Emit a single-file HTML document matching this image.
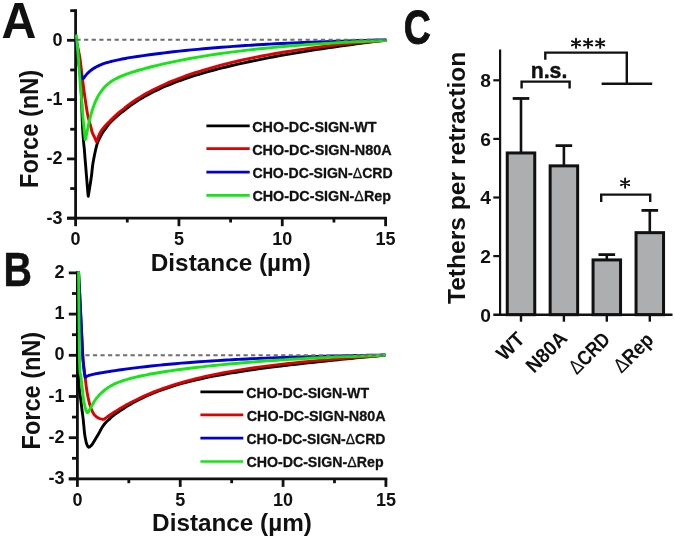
<!DOCTYPE html>
<html><head><meta charset="utf-8"><title>Figure</title>
<style>html,body{margin:0;padding:0;background:#fff;width:675px;height:540px;overflow:hidden}
svg{display:block;font-family:"Liberation Sans",sans-serif;will-change:transform}</style></head>
<body>
<svg width="675" height="540" viewBox="0 0 675 540" font-family="Liberation Sans, sans-serif">
<rect width="675" height="540" fill="#fff"/>
<line x1="75.60" y1="9.25" x2="75.60" y2="218.20" stroke="#111" stroke-width="2.80" />
<line x1="67.00" y1="218.20" x2="387.00" y2="218.20" stroke="#111" stroke-width="2.80" />
<line x1="67.00" y1="218.20" x2="75.60" y2="218.20" stroke="#111" stroke-width="2.80" />
<line x1="70.20" y1="188.55" x2="75.60" y2="188.55" stroke="#111" stroke-width="2.80" />
<line x1="67.00" y1="158.90" x2="75.60" y2="158.90" stroke="#111" stroke-width="2.80" />
<line x1="70.20" y1="129.25" x2="75.60" y2="129.25" stroke="#111" stroke-width="2.80" />
<line x1="67.00" y1="99.60" x2="75.60" y2="99.60" stroke="#111" stroke-width="2.80" />
<line x1="70.20" y1="69.95" x2="75.60" y2="69.95" stroke="#111" stroke-width="2.80" />
<line x1="67.00" y1="40.30" x2="75.60" y2="40.30" stroke="#111" stroke-width="2.80" />
<line x1="70.20" y1="10.65" x2="75.60" y2="10.65" stroke="#111" stroke-width="2.80" />
<line x1="75.60" y1="218.20" x2="75.60" y2="226.20" stroke="#111" stroke-width="2.80" />
<line x1="178.93" y1="218.20" x2="178.93" y2="226.20" stroke="#111" stroke-width="2.80" />
<line x1="282.27" y1="218.20" x2="282.27" y2="226.20" stroke="#111" stroke-width="2.80" />
<line x1="385.60" y1="218.20" x2="385.60" y2="226.20" stroke="#111" stroke-width="2.80" />
<line x1="127.27" y1="218.20" x2="127.27" y2="222.50" stroke="#111" stroke-width="2.80" />
<line x1="230.60" y1="218.20" x2="230.60" y2="222.50" stroke="#111" stroke-width="2.80" />
<line x1="333.93" y1="218.20" x2="333.93" y2="222.50" stroke="#111" stroke-width="2.80" />
<text x="62.600" y="223.500" font-size="18.000" text-anchor="end" font-weight="bold" fill="#111">-3</text>
<text x="62.600" y="164.200" font-size="18.000" text-anchor="end" font-weight="bold" fill="#111">-2</text>
<text x="62.600" y="104.900" font-size="18.000" text-anchor="end" font-weight="bold" fill="#111">-1</text>
<text x="62.600" y="45.600" font-size="18.000" text-anchor="end" font-weight="bold" fill="#111">0</text>
<text x="75.600" y="245.000" font-size="18.000" text-anchor="middle" font-weight="bold" fill="#111">0</text>
<text x="178.933" y="245.000" font-size="18.000" text-anchor="middle" font-weight="bold" fill="#111">5</text>
<text x="282.267" y="245.000" font-size="18.000" text-anchor="middle" font-weight="bold" fill="#111">10</text>
<text x="385.600" y="245.000" font-size="18.000" text-anchor="middle" font-weight="bold" fill="#111">15</text>
<path d="M75.80,40.30 C76.03,41.42 76.70,44.55 77.20,47.00 C77.70,49.45 78.30,51.17 78.80,55.00 C79.30,58.83 79.80,64.17 80.20,70.00 C80.60,75.83 80.92,83.33 81.20,90.00 C81.48,96.67 81.67,103.67 81.90,110.00 C82.13,116.33 82.32,122.67 82.60,128.00 C82.88,133.33 83.30,138.33 83.60,142.00 C83.90,145.67 84.17,147.33 84.40,150.00 C84.63,152.67 84.80,155.50 85.00,158.00 C85.20,160.50 85.37,162.17 85.60,165.00 C85.83,167.83 86.13,171.67 86.40,175.00 C86.67,178.33 86.97,182.17 87.20,185.00 C87.43,187.83 87.63,190.12 87.80,192.00 C87.97,193.88 88.03,196.13 88.20,196.30 C88.37,196.47 88.48,194.88 88.80,193.00 C89.12,191.12 89.63,188.00 90.10,185.00 C90.57,182.00 91.17,178.33 91.60,175.00 C92.03,171.67 92.22,168.33 92.70,165.00 C93.18,161.67 93.90,158.00 94.50,155.00 C95.10,152.00 95.75,149.17 96.30,147.00 C96.85,144.83 97.25,143.47 97.80,142.00 C98.35,140.53 98.83,139.70 99.60,138.20 C100.37,136.70 101.32,134.73 102.40,133.00 C103.48,131.27 104.83,129.50 106.10,127.80 C107.37,126.10 108.52,124.43 110.00,122.80 C111.48,121.17 113.33,119.53 115.00,118.00 C116.67,116.47 118.50,114.83 120.00,113.60 C121.50,112.37 123.08,111.32 124.00,110.60 C124.92,109.88 125.00,109.68 125.50,109.27 C126.00,108.85 126.50,108.49 127.00,108.12 C127.50,107.74 128.00,107.36 128.50,106.99 C129.00,106.62 129.50,106.26 130.00,105.90 C130.50,105.54 131.00,105.19 131.50,104.83 C132.00,104.48 132.50,104.14 133.00,103.79 C133.50,103.45 134.00,103.11 134.50,102.78 C135.00,102.45 135.50,102.12 136.00,101.79 C136.50,101.46 137.00,101.14 137.50,100.82 C138.00,100.51 138.50,100.19 139.00,99.88 C139.50,99.57 140.00,99.26 140.50,98.96 C141.00,98.65 141.50,98.35 142.00,98.06 C142.50,97.76 143.00,97.47 143.50,97.18 C144.00,96.89 144.50,96.60 145.00,96.32 C145.50,96.03 146.00,95.75 146.50,95.48 C147.00,95.20 147.50,94.92 148.00,94.65 C148.50,94.38 149.00,94.11 149.50,93.85 C150.00,93.58 150.50,93.32 151.00,93.06 C151.50,92.80 152.00,92.54 152.50,92.29 C153.00,92.03 152.75,92.14 154.00,91.53 C155.25,90.93 158.00,89.58 160.00,88.66 C162.00,87.74 164.00,86.86 166.00,86.01 C168.00,85.16 170.00,84.34 172.00,83.55 C174.00,82.75 176.00,81.99 178.00,81.25 C180.00,80.51 182.00,79.80 184.00,79.10 C186.00,78.40 188.00,77.73 190.00,77.08 C192.00,76.42 194.00,75.79 196.00,75.17 C198.00,74.55 200.00,73.95 202.00,73.37 C204.00,72.78 206.00,72.21 208.00,71.65 C210.00,71.10 212.00,70.55 214.00,70.02 C216.00,69.49 218.00,68.97 220.00,68.46 C222.00,67.95 224.00,67.46 226.00,66.97 C228.00,66.48 230.00,66.00 232.00,65.53 C234.00,65.06 236.00,64.61 238.00,64.15 C240.00,63.70 242.00,63.26 244.00,62.82 C246.00,62.39 248.00,61.96 250.00,61.54 C252.00,61.12 254.00,60.70 256.00,60.30 C258.00,59.89 260.00,59.49 262.00,59.09 C264.00,58.70 266.00,58.31 268.00,57.93 C270.00,57.54 272.00,57.16 274.00,56.79 C276.00,56.42 278.00,56.05 280.00,55.69 C282.00,55.33 284.00,54.97 286.00,54.62 C288.00,54.27 290.00,53.92 292.00,53.58 C294.00,53.23 296.00,52.89 298.00,52.56 C300.00,52.23 302.00,51.90 304.00,51.57 C306.00,51.24 308.00,50.92 310.00,50.60 C312.00,50.29 314.00,49.97 316.00,49.66 C318.00,49.35 320.00,49.04 322.00,48.74 C324.00,48.44 326.00,48.14 328.00,47.84 C330.00,47.54 332.00,47.25 334.00,46.96 C336.00,46.67 338.00,46.39 340.00,46.10 C342.00,45.82 344.00,45.54 346.00,45.27 C348.00,44.99 350.00,44.72 352.00,44.45 C354.00,44.18 356.00,43.91 358.00,43.64 C360.00,43.38 362.00,43.12 364.00,42.86 C366.00,42.60 368.00,42.35 370.00,42.09 C372.00,41.84 374.00,41.59 376.00,41.34 C378.00,41.09 380.42,40.80 382.00,40.61 C383.58,40.42 384.92,40.26 385.50,40.19" fill="none" stroke="#000" stroke-width="2.90" stroke-linejoin="round" stroke-linecap="round"/>
<path d="M76.20,40.00 C76.42,41.00 77.07,44.00 77.50,46.00 C77.93,48.00 78.35,49.67 78.80,52.00 C79.25,54.33 79.67,56.17 80.20,60.00 C80.73,63.83 81.45,70.50 82.00,75.00 C82.55,79.50 82.95,82.83 83.50,87.00 C84.05,91.17 84.60,95.33 85.30,100.00 C86.00,104.67 87.00,111.33 87.70,115.00 C88.40,118.67 88.97,120.00 89.50,122.00 C90.03,124.00 90.47,125.33 90.90,127.00 C91.33,128.67 91.47,130.23 92.10,132.00 C92.73,133.77 93.93,135.93 94.70,137.60 C95.47,139.27 96.08,142.17 96.70,142.00 C97.32,141.83 97.62,138.50 98.40,136.60 C99.18,134.70 100.28,132.37 101.40,130.60 C102.52,128.83 103.67,127.60 105.10,126.00 C106.53,124.40 108.35,122.65 110.00,121.00 C111.65,119.35 113.33,117.65 115.00,116.10 C116.67,114.55 118.50,112.95 120.00,111.70 C121.50,110.45 123.08,109.35 124.00,108.60 C124.92,107.85 125.00,107.64 125.50,107.21 C126.00,106.79 126.50,106.44 127.00,106.06 C127.50,105.68 128.00,105.30 128.50,104.93 C129.00,104.56 129.50,104.19 130.00,103.83 C130.50,103.47 131.00,103.12 131.50,102.76 C132.00,102.41 132.50,102.06 133.00,101.72 C133.50,101.38 134.00,101.04 134.50,100.70 C135.00,100.37 135.50,100.04 136.00,99.71 C136.50,99.38 137.00,99.06 137.50,98.74 C138.00,98.42 138.50,98.10 139.00,97.79 C139.50,97.48 140.00,97.17 140.50,96.87 C141.00,96.56 141.50,96.26 142.00,95.96 C142.50,95.66 143.00,95.37 143.50,95.07 C144.00,94.78 144.50,94.49 145.00,94.21 C145.50,93.92 146.00,93.64 146.50,93.36 C147.00,93.08 147.50,92.80 148.00,92.53 C148.50,92.26 149.00,91.98 149.50,91.72 C150.00,91.45 150.50,91.18 151.00,90.92 C151.50,90.66 152.00,90.40 152.50,90.14 C153.00,89.88 152.75,89.99 154.00,89.37 C155.25,88.76 158.00,87.39 160.00,86.45 C162.00,85.51 164.00,84.61 166.00,83.73 C168.00,82.85 170.00,82.01 172.00,81.19 C174.00,80.37 176.00,79.58 178.00,78.81 C180.00,78.04 182.00,77.30 184.00,76.57 C186.00,75.84 188.00,75.14 190.00,74.46 C192.00,73.77 194.00,73.11 196.00,72.46 C198.00,71.81 200.00,71.18 202.00,70.57 C204.00,69.95 206.00,69.36 208.00,68.77 C210.00,68.19 212.00,67.62 214.00,67.07 C216.00,66.51 218.00,65.97 220.00,65.44 C222.00,64.92 224.00,64.40 226.00,63.90 C228.00,63.39 230.00,62.90 232.00,62.42 C234.00,61.94 236.00,61.47 238.00,61.01 C240.00,60.56 242.00,60.11 244.00,59.67 C246.00,59.23 248.00,58.80 250.00,58.39 C252.00,57.97 254.00,57.56 256.00,57.16 C258.00,56.76 260.00,56.37 262.00,55.99 C264.00,55.60 266.00,55.23 268.00,54.86 C270.00,54.50 272.00,54.14 274.00,53.79 C276.00,53.44 278.00,53.10 280.00,52.76 C282.00,52.43 284.00,52.10 286.00,51.78 C288.00,51.46 290.00,51.15 292.00,50.84 C294.00,50.53 296.00,50.23 298.00,49.94 C300.00,49.64 302.00,49.36 304.00,49.08 C306.00,48.79 308.00,48.52 310.00,48.25 C312.00,47.98 314.00,47.72 316.00,47.46 C318.00,47.20 320.00,46.95 322.00,46.70 C324.00,46.46 326.00,46.21 328.00,45.98 C330.00,45.74 332.00,45.51 334.00,45.28 C336.00,45.06 338.00,44.84 340.00,44.62 C342.00,44.40 344.00,44.19 346.00,43.98 C348.00,43.77 350.00,43.57 352.00,43.37 C354.00,43.17 356.00,42.98 358.00,42.79 C360.00,42.60 362.00,42.41 364.00,42.23 C366.00,42.05 368.00,41.87 370.00,41.69 C372.00,41.52 374.00,41.35 376.00,41.18 C378.00,41.01 380.42,40.82 382.00,40.69 C383.58,40.56 384.92,40.46 385.50,40.41" fill="none" stroke="#e00000" stroke-width="2.90" stroke-linejoin="round" stroke-linecap="round"/>
<path d="M76.20,40.30 C76.40,41.92 77.03,46.72 77.40,50.00 C77.77,53.28 78.07,57.00 78.40,60.00 C78.73,63.00 79.03,65.67 79.40,68.00 C79.77,70.33 80.17,72.37 80.60,74.00 C81.03,75.63 81.53,77.05 82.00,77.80 C82.47,78.55 82.92,78.73 83.40,78.50 C83.88,78.27 84.40,77.05 84.90,76.40 C85.40,75.76 85.90,75.18 86.40,74.62 C86.90,74.06 87.40,73.54 87.90,73.05 C88.40,72.55 88.90,72.09 89.40,71.65 C89.90,71.21 90.40,70.79 90.90,70.40 C91.40,70.01 91.90,69.64 92.40,69.29 C92.90,68.93 93.40,68.60 93.90,68.29 C94.40,67.97 94.90,67.67 95.40,67.39 C95.90,67.10 96.40,66.83 96.90,66.57 C97.40,66.31 97.90,66.07 98.40,65.83 C98.90,65.60 99.40,65.37 99.90,65.16 C100.40,64.94 100.90,64.74 101.40,64.54 C101.90,64.34 102.40,64.15 102.90,63.97 C103.40,63.78 103.90,63.61 104.40,63.44 C104.90,63.27 105.40,63.11 105.90,62.95 C106.40,62.79 106.90,62.64 107.40,62.49 C107.90,62.34 108.40,62.20 108.90,62.06 C109.40,61.92 109.90,61.78 110.40,61.65 C110.90,61.52 111.40,61.39 111.90,61.27 C112.40,61.14 112.15,61.18 113.40,60.90 C114.65,60.62 117.40,60.00 119.40,59.59 C121.40,59.18 123.40,58.81 125.40,58.45 C127.40,58.09 129.40,57.76 131.40,57.43 C133.40,57.10 135.40,56.79 137.40,56.48 C139.40,56.18 141.40,55.88 143.40,55.60 C145.40,55.31 147.40,55.03 149.40,54.76 C151.40,54.49 153.40,54.23 155.40,53.97 C157.40,53.71 159.40,53.46 161.40,53.21 C163.40,52.97 165.40,52.73 167.40,52.49 C169.40,52.26 171.40,52.03 173.40,51.80 C175.40,51.58 177.40,51.36 179.40,51.15 C181.40,50.93 183.40,50.72 185.40,50.52 C187.40,50.31 189.40,50.11 191.40,49.92 C193.40,49.72 195.40,49.53 197.40,49.34 C199.40,49.15 201.40,48.97 203.40,48.79 C205.40,48.61 207.40,48.44 209.40,48.27 C211.40,48.10 213.40,47.93 215.40,47.77 C217.40,47.60 219.40,47.44 221.40,47.29 C223.40,47.13 225.40,46.98 227.40,46.83 C229.40,46.68 231.40,46.53 233.40,46.39 C235.40,46.24 237.40,46.10 239.40,45.97 C241.40,45.83 243.40,45.70 245.40,45.57 C247.40,45.44 249.40,45.31 251.40,45.18 C253.40,45.06 255.40,44.94 257.40,44.82 C259.40,44.70 261.40,44.58 263.40,44.46 C265.40,44.35 267.40,44.24 269.40,44.13 C271.40,44.02 273.40,43.91 275.40,43.81 C277.40,43.70 279.40,43.60 281.40,43.50 C283.40,43.40 285.40,43.30 287.40,43.21 C289.40,43.11 291.40,43.02 293.40,42.93 C295.40,42.84 297.40,42.75 299.40,42.66 C301.40,42.57 303.40,42.49 305.40,42.40 C307.40,42.32 309.40,42.24 311.40,42.16 C313.40,42.08 315.40,42.00 317.40,41.92 C319.40,41.85 321.40,41.77 323.40,41.70 C325.40,41.63 327.40,41.55 329.40,41.48 C331.40,41.41 333.40,41.35 335.40,41.28 C337.40,41.21 339.40,41.15 341.40,41.08 C343.40,41.02 345.40,40.96 347.40,40.90 C349.40,40.83 351.40,40.77 353.40,40.72 C355.40,40.66 357.40,40.60 359.40,40.54 C361.40,40.49 363.40,40.43 365.40,40.38 C367.40,40.33 369.40,40.27 371.40,40.22 C373.40,40.17 375.40,40.12 377.40,40.07 C379.40,40.02 382.05,39.96 383.40,39.93 C384.75,39.90 385.15,39.89 385.50,39.88" fill="none" stroke="#0000d2" stroke-width="2.90" stroke-linejoin="round" stroke-linecap="round"/>
<path d="M76.50,35.80 C76.68,37.83 77.25,43.97 77.60,48.00 C77.95,52.03 78.27,55.50 78.60,60.00 C78.93,64.50 79.27,70.33 79.60,75.00 C79.93,79.67 80.27,83.83 80.60,88.00 C80.93,92.17 81.30,96.33 81.60,100.00 C81.90,103.67 82.13,106.67 82.40,110.00 C82.67,113.33 82.90,116.67 83.20,120.00 C83.50,123.33 83.93,127.33 84.20,130.00 C84.47,132.67 84.60,134.40 84.80,136.00 C85.00,137.60 85.05,140.19 85.40,139.60 C85.75,139.01 86.40,134.87 86.90,132.43 C87.40,129.99 87.90,127.29 88.40,124.98 C88.90,122.67 89.40,120.56 89.90,118.57 C90.40,116.59 90.90,114.77 91.40,113.06 C91.90,111.35 92.40,109.78 92.90,108.31 C93.40,106.83 93.90,105.47 94.40,104.19 C94.90,102.91 95.40,101.74 95.90,100.63 C96.40,99.51 96.90,98.49 97.40,97.52 C97.90,96.55 98.40,95.66 98.90,94.81 C99.40,93.96 99.90,93.18 100.40,92.43 C100.90,91.69 101.40,91.00 101.90,90.34 C102.40,89.68 102.90,89.07 103.40,88.49 C103.90,87.90 104.40,87.36 104.90,86.84 C105.40,86.32 105.90,85.83 106.40,85.37 C106.90,84.90 107.40,84.47 107.90,84.05 C108.40,83.63 108.90,83.23 109.40,82.85 C109.90,82.47 110.40,82.11 110.90,81.77 C111.40,81.42 111.90,81.09 112.40,80.77 C112.90,80.45 113.40,80.15 113.90,79.86 C114.40,79.57 114.15,79.63 115.40,79.01 C116.65,78.39 119.40,77.01 121.40,76.15 C123.40,75.28 125.40,74.54 127.40,73.82 C129.40,73.10 131.40,72.45 133.40,71.81 C135.40,71.18 137.40,70.59 139.40,70.01 C141.40,69.43 143.40,68.88 145.40,68.34 C147.40,67.80 149.40,67.29 151.40,66.78 C153.40,66.28 155.40,65.79 157.40,65.31 C159.40,64.84 161.40,64.37 163.40,63.92 C165.40,63.47 167.40,63.03 169.40,62.59 C171.40,62.16 173.40,61.74 175.40,61.33 C177.40,60.92 179.40,60.52 181.40,60.13 C183.40,59.74 185.40,59.36 187.40,58.99 C189.40,58.62 191.40,58.25 193.40,57.90 C195.40,57.54 197.40,57.20 199.40,56.86 C201.40,56.52 203.40,56.19 205.40,55.87 C207.40,55.55 209.40,55.23 211.40,54.93 C213.40,54.62 215.40,54.32 217.40,54.03 C219.40,53.74 221.40,53.45 223.40,53.17 C225.40,52.89 227.40,52.62 229.40,52.35 C231.40,52.09 233.40,51.83 235.40,51.58 C237.40,51.32 239.40,51.07 241.40,50.83 C243.40,50.59 245.40,50.36 247.40,50.13 C249.40,49.90 251.40,49.67 253.40,49.45 C255.40,49.23 257.40,49.02 259.40,48.81 C261.40,48.60 263.40,48.40 265.40,48.20 C267.40,48.00 269.40,47.80 271.40,47.61 C273.40,47.42 275.40,47.24 277.40,47.06 C279.40,46.87 281.40,46.70 283.40,46.53 C285.40,46.35 287.40,46.18 289.40,46.02 C291.40,45.86 293.40,45.69 295.40,45.54 C297.40,45.38 299.40,45.23 301.40,45.08 C303.40,44.93 305.40,44.78 307.40,44.64 C309.40,44.50 311.40,44.36 313.40,44.22 C315.40,44.09 317.40,43.96 319.40,43.83 C321.40,43.70 323.40,43.57 325.40,43.45 C327.40,43.32 329.40,43.20 331.40,43.09 C333.40,42.97 335.40,42.85 337.40,42.74 C339.40,42.63 341.40,42.52 343.40,42.41 C345.40,42.31 347.40,42.20 349.40,42.10 C351.40,42.00 353.40,41.90 355.40,41.80 C357.40,41.70 359.40,41.61 361.40,41.52 C363.40,41.42 365.40,41.33 367.40,41.25 C369.40,41.16 371.40,41.07 373.40,40.99 C375.40,40.90 377.40,40.82 379.40,40.74 C381.40,40.66 384.38,40.55 385.40,40.51 C386.42,40.47 385.48,40.50 385.50,40.50" fill="none" stroke="#14e614" stroke-width="2.90" stroke-linejoin="round" stroke-linecap="round"/>
<line x1="76.40" y1="39.80" x2="386.50" y2="39.80" stroke="#6e6e6e" stroke-width="1.90" stroke-dasharray="4.2 3.44"/>
<line x1="77.40" y1="271.50" x2="77.40" y2="478.90" stroke="#111" stroke-width="2.80" />
<line x1="68.80" y1="478.90" x2="387.30" y2="478.90" stroke="#111" stroke-width="2.80" />
<line x1="68.80" y1="478.90" x2="77.40" y2="478.90" stroke="#111" stroke-width="2.80" />
<line x1="72.00" y1="458.30" x2="77.40" y2="458.30" stroke="#111" stroke-width="2.80" />
<line x1="68.80" y1="437.70" x2="77.40" y2="437.70" stroke="#111" stroke-width="2.80" />
<line x1="72.00" y1="417.10" x2="77.40" y2="417.10" stroke="#111" stroke-width="2.80" />
<line x1="68.80" y1="396.50" x2="77.40" y2="396.50" stroke="#111" stroke-width="2.80" />
<line x1="72.00" y1="375.90" x2="77.40" y2="375.90" stroke="#111" stroke-width="2.80" />
<line x1="68.80" y1="355.30" x2="77.40" y2="355.30" stroke="#111" stroke-width="2.80" />
<line x1="72.00" y1="334.70" x2="77.40" y2="334.70" stroke="#111" stroke-width="2.80" />
<line x1="68.80" y1="314.10" x2="77.40" y2="314.10" stroke="#111" stroke-width="2.80" />
<line x1="72.00" y1="293.50" x2="77.40" y2="293.50" stroke="#111" stroke-width="2.80" />
<line x1="68.80" y1="272.90" x2="77.40" y2="272.90" stroke="#111" stroke-width="2.80" />
<line x1="77.40" y1="478.90" x2="77.40" y2="486.90" stroke="#111" stroke-width="2.80" />
<line x1="180.23" y1="478.90" x2="180.23" y2="486.90" stroke="#111" stroke-width="2.80" />
<line x1="283.07" y1="478.90" x2="283.07" y2="486.90" stroke="#111" stroke-width="2.80" />
<line x1="385.90" y1="478.90" x2="385.90" y2="486.90" stroke="#111" stroke-width="2.80" />
<line x1="128.82" y1="478.90" x2="128.82" y2="483.20" stroke="#111" stroke-width="2.80" />
<line x1="231.65" y1="478.90" x2="231.65" y2="483.20" stroke="#111" stroke-width="2.80" />
<line x1="334.48" y1="478.90" x2="334.48" y2="483.20" stroke="#111" stroke-width="2.80" />
<text x="64.500" y="483.900" font-size="18.000" text-anchor="end" font-weight="bold" fill="#111">-3</text>
<text x="64.500" y="442.700" font-size="18.000" text-anchor="end" font-weight="bold" fill="#111">-2</text>
<text x="64.500" y="401.500" font-size="18.000" text-anchor="end" font-weight="bold" fill="#111">-1</text>
<text x="64.500" y="360.300" font-size="18.000" text-anchor="end" font-weight="bold" fill="#111">0</text>
<text x="64.500" y="319.100" font-size="18.000" text-anchor="end" font-weight="bold" fill="#111">1</text>
<text x="64.500" y="277.900" font-size="18.000" text-anchor="end" font-weight="bold" fill="#111">2</text>
<text x="77.400" y="505.600" font-size="18.000" text-anchor="middle" font-weight="bold" fill="#111">0</text>
<text x="180.233" y="505.600" font-size="18.000" text-anchor="middle" font-weight="bold" fill="#111">5</text>
<text x="283.067" y="505.600" font-size="18.000" text-anchor="middle" font-weight="bold" fill="#111">10</text>
<text x="385.900" y="505.600" font-size="18.000" text-anchor="middle" font-weight="bold" fill="#111">15</text>
<path d="M77.60,272.80 C77.65,282.33 77.78,313.80 77.90,330.00 C78.02,346.20 78.08,360.33 78.30,370.00 C78.52,379.67 78.78,383.00 79.20,388.00 C79.62,393.00 80.33,396.33 80.80,400.00 C81.27,403.67 81.60,406.78 82.00,410.00 C82.40,413.22 82.77,415.35 83.20,419.30 C83.63,423.25 84.20,430.33 84.60,433.70 C85.00,437.07 85.28,437.88 85.60,439.50 C85.92,441.12 86.05,442.15 86.50,443.40 C86.95,444.65 87.72,446.47 88.30,447.00 C88.88,447.53 89.35,447.03 90.00,446.60 C90.65,446.17 91.28,445.67 92.20,444.40 C93.12,443.13 94.38,440.85 95.50,439.00 C96.62,437.15 97.98,434.92 98.90,433.30 C99.82,431.68 100.27,430.58 101.00,429.30 C101.73,428.02 102.35,426.88 103.30,425.60 C104.25,424.32 105.58,422.77 106.70,421.60 C107.82,420.43 109.20,419.37 110.00,418.60 C110.80,417.83 111.00,417.45 111.50,416.99 C112.00,416.53 112.50,416.21 113.00,415.83 C113.50,415.45 114.00,415.07 114.50,414.70 C115.00,414.32 115.50,413.95 116.00,413.59 C116.50,413.23 117.00,412.87 117.50,412.51 C118.00,412.16 118.50,411.81 119.00,411.46 C119.50,411.11 120.00,410.77 120.50,410.43 C121.00,410.09 121.50,409.76 122.00,409.43 C122.50,409.10 123.00,408.77 123.50,408.45 C124.00,408.13 124.50,407.81 125.00,407.50 C125.50,407.18 126.00,406.87 126.50,406.56 C127.00,406.26 127.50,405.95 128.00,405.65 C128.50,405.35 129.00,405.06 129.50,404.77 C130.00,404.47 130.50,404.18 131.00,403.90 C131.50,403.61 132.00,403.33 132.50,403.05 C133.00,402.77 133.50,402.49 134.00,402.22 C134.50,401.95 135.00,401.68 135.50,401.41 C136.00,401.15 136.50,400.88 137.00,400.62 C137.50,400.36 138.00,400.11 138.50,399.85 C139.00,399.60 138.75,399.70 140.00,399.10 C141.25,398.50 144.00,397.15 146.00,396.25 C148.00,395.34 150.00,394.47 152.00,393.64 C154.00,392.81 156.00,392.01 158.00,391.25 C160.00,390.49 162.00,389.76 164.00,389.06 C166.00,388.35 168.00,387.68 170.00,387.04 C172.00,386.39 174.00,385.77 176.00,385.17 C178.00,384.58 180.00,384.00 182.00,383.45 C184.00,382.90 186.00,382.37 188.00,381.85 C190.00,381.34 192.00,380.84 194.00,380.36 C196.00,379.88 198.00,379.42 200.00,378.97 C202.00,378.52 204.00,378.09 206.00,377.67 C208.00,377.25 210.00,376.84 212.00,376.45 C214.00,376.05 216.00,375.67 218.00,375.30 C220.00,374.92 222.00,374.56 224.00,374.21 C226.00,373.86 228.00,373.51 230.00,373.18 C232.00,372.84 234.00,372.52 236.00,372.20 C238.00,371.88 240.00,371.57 242.00,371.26 C244.00,370.96 246.00,370.66 248.00,370.37 C250.00,370.07 252.00,369.79 254.00,369.51 C256.00,369.23 258.00,368.95 260.00,368.68 C262.00,368.41 264.00,368.14 266.00,367.88 C268.00,367.62 270.00,367.36 272.00,367.11 C274.00,366.86 276.00,366.61 278.00,366.36 C280.00,366.12 282.00,365.87 284.00,365.63 C286.00,365.40 288.00,365.16 290.00,364.93 C292.00,364.69 294.00,364.46 296.00,364.23 C298.00,364.00 300.00,363.78 302.00,363.56 C304.00,363.33 306.00,363.11 308.00,362.89 C310.00,362.67 312.00,362.45 314.00,362.24 C316.00,362.02 318.00,361.81 320.00,361.60 C322.00,361.39 324.00,361.18 326.00,360.97 C328.00,360.76 330.00,360.55 332.00,360.34 C334.00,360.14 336.00,359.93 338.00,359.73 C340.00,359.53 342.00,359.32 344.00,359.12 C346.00,358.92 348.00,358.72 350.00,358.52 C352.00,358.32 354.00,358.12 356.00,357.92 C358.00,357.73 360.00,357.53 362.00,357.33 C364.00,357.14 366.00,356.94 368.00,356.75 C370.00,356.55 372.00,356.36 374.00,356.17 C376.00,355.97 378.25,355.76 380.00,355.59 C381.75,355.42 383.75,355.23 384.50,355.16" fill="none" stroke="#000" stroke-width="2.90" stroke-linejoin="round" stroke-linecap="round"/>
<path d="M78.60,272.50 C78.97,279.75 80.12,302.25 80.80,316.00 C81.48,329.75 82.17,346.33 82.70,355.00 C83.23,363.67 83.55,363.93 84.00,368.00 C84.45,372.07 84.93,375.65 85.40,379.40 C85.87,383.15 86.27,387.10 86.80,390.50 C87.33,393.90 87.92,396.87 88.60,399.80 C89.28,402.73 89.97,405.63 90.90,408.10 C91.83,410.57 92.88,412.90 94.20,414.60 C95.52,416.30 97.42,417.53 98.80,418.30 C100.18,419.07 101.63,419.04 102.50,419.20 C103.37,419.36 103.50,419.45 104.00,419.28 C104.50,419.11 105.00,418.55 105.50,418.19 C106.00,417.83 106.50,417.47 107.00,417.12 C107.50,416.77 108.00,416.41 108.50,416.07 C109.00,415.72 109.50,415.38 110.00,415.04 C110.50,414.70 111.00,414.36 111.50,414.02 C112.00,413.69 112.50,413.36 113.00,413.03 C113.50,412.70 114.00,412.38 114.50,412.06 C115.00,411.74 115.50,411.42 116.00,411.10 C116.50,410.79 117.00,410.47 117.50,410.16 C118.00,409.85 118.50,409.55 119.00,409.24 C119.50,408.94 120.00,408.64 120.50,408.34 C121.00,408.04 121.50,407.74 122.00,407.45 C122.50,407.16 123.00,406.87 123.50,406.58 C124.00,406.29 124.50,406.01 125.00,405.72 C125.50,405.44 126.00,405.16 126.50,404.89 C127.00,404.61 127.50,404.33 128.00,404.06 C128.50,403.79 129.00,403.52 129.50,403.25 C130.00,402.99 130.50,402.72 131.00,402.46 C131.50,402.20 131.25,402.31 132.50,401.68 C133.75,401.05 136.50,399.66 138.50,398.70 C140.50,397.74 142.50,396.82 144.50,395.93 C146.50,395.04 148.50,394.18 150.50,393.35 C152.50,392.52 154.50,391.73 156.50,390.95 C158.50,390.18 160.50,389.44 162.50,388.72 C164.50,388.00 166.50,387.30 168.50,386.63 C170.50,385.96 172.50,385.31 174.50,384.68 C176.50,384.06 178.50,383.45 180.50,382.86 C182.50,382.28 184.50,381.71 186.50,381.16 C188.50,380.61 190.50,380.08 192.50,379.57 C194.50,379.05 196.50,378.56 198.50,378.07 C200.50,377.59 202.50,377.13 204.50,376.67 C206.50,376.22 208.50,375.78 210.50,375.36 C212.50,374.93 214.50,374.52 216.50,374.12 C218.50,373.71 220.50,373.33 222.50,372.95 C224.50,372.57 226.50,372.20 228.50,371.85 C230.50,371.49 232.50,371.14 234.50,370.81 C236.50,370.47 238.50,370.14 240.50,369.82 C242.50,369.50 244.50,369.19 246.50,368.89 C248.50,368.59 250.50,368.29 252.50,368.00 C254.50,367.72 256.50,367.44 258.50,367.16 C260.50,366.89 262.50,366.62 264.50,366.36 C266.50,366.10 268.50,365.85 270.50,365.60 C272.50,365.35 274.50,365.11 276.50,364.87 C278.50,364.63 280.50,364.40 282.50,364.17 C284.50,363.94 286.50,363.72 288.50,363.50 C290.50,363.28 292.50,363.07 294.50,362.86 C296.50,362.65 298.50,362.44 300.50,362.24 C302.50,362.04 304.50,361.84 306.50,361.65 C308.50,361.45 310.50,361.26 312.50,361.07 C314.50,360.88 316.50,360.70 318.50,360.52 C320.50,360.34 322.50,360.16 324.50,359.98 C326.50,359.81 328.50,359.63 330.50,359.46 C332.50,359.29 334.50,359.12 336.50,358.96 C338.50,358.79 340.50,358.63 342.50,358.46 C344.50,358.30 346.50,358.14 348.50,357.99 C350.50,357.83 352.50,357.67 354.50,357.52 C356.50,357.36 358.50,357.21 360.50,357.06 C362.50,356.91 364.50,356.76 366.50,356.62 C368.50,356.47 370.50,356.32 372.50,356.18 C374.50,356.04 376.50,355.89 378.50,355.75 C380.50,355.61 383.50,355.40 384.50,355.33" fill="none" stroke="#e00000" stroke-width="2.90" stroke-linejoin="round" stroke-linecap="round"/>
<path d="M78.60,272.50 C78.97,279.75 80.12,302.25 80.80,316.00 C81.48,329.75 82.25,346.83 82.70,355.00 C83.15,363.17 83.23,362.08 83.50,365.00 C83.77,367.92 84.02,370.47 84.30,372.50 C84.58,374.53 84.80,376.55 85.20,377.20 C85.60,377.85 86.20,376.64 86.70,376.40 C87.20,376.16 87.70,375.94 88.20,375.74 C88.70,375.55 89.20,375.38 89.70,375.22 C90.20,375.06 90.70,374.92 91.20,374.79 C91.70,374.66 92.20,374.54 92.70,374.42 C93.20,374.30 93.70,374.19 94.20,374.08 C94.70,373.98 95.20,373.88 95.70,373.78 C96.20,373.68 96.70,373.59 97.20,373.49 C97.70,373.40 98.20,373.31 98.70,373.22 C99.20,373.13 99.70,373.04 100.20,372.96 C100.70,372.87 101.20,372.78 101.70,372.70 C102.20,372.62 102.70,372.53 103.20,372.45 C103.70,372.37 104.20,372.29 104.70,372.21 C105.20,372.12 105.70,372.04 106.20,371.97 C106.70,371.89 107.20,371.81 107.70,371.73 C108.20,371.65 108.70,371.57 109.20,371.49 C109.70,371.42 110.20,371.34 110.70,371.26 C111.20,371.19 111.70,371.11 112.20,371.04 C112.70,370.96 113.20,370.89 113.70,370.81 C114.20,370.74 113.95,370.77 115.20,370.59 C116.45,370.41 119.20,370.01 121.20,369.74 C123.20,369.46 125.20,369.19 127.20,368.92 C129.20,368.66 131.20,368.40 133.20,368.15 C135.20,367.90 137.20,367.65 139.20,367.41 C141.20,367.17 143.20,366.94 145.20,366.71 C147.20,366.48 149.20,366.26 151.20,366.05 C153.20,365.83 155.20,365.62 157.20,365.41 C159.20,365.21 161.20,365.01 163.20,364.81 C165.20,364.62 167.20,364.43 169.20,364.24 C171.20,364.06 173.20,363.88 175.20,363.70 C177.20,363.52 179.20,363.35 181.20,363.18 C183.20,363.01 185.20,362.85 187.20,362.69 C189.20,362.53 191.20,362.38 193.20,362.22 C195.20,362.07 197.20,361.92 199.20,361.78 C201.20,361.64 203.20,361.50 205.20,361.36 C207.20,361.22 209.20,361.09 211.20,360.96 C213.20,360.83 215.20,360.70 217.20,360.58 C219.20,360.45 221.20,360.33 223.20,360.21 C225.20,360.10 227.20,359.98 229.20,359.87 C231.20,359.76 233.20,359.65 235.20,359.54 C237.20,359.44 239.20,359.33 241.20,359.23 C243.20,359.13 245.20,359.03 247.20,358.93 C249.20,358.84 251.20,358.74 253.20,358.65 C255.20,358.56 257.20,358.47 259.20,358.39 C261.20,358.30 263.20,358.21 265.20,358.13 C267.20,358.05 269.20,357.97 271.20,357.89 C273.20,357.81 275.20,357.73 277.20,357.66 C279.20,357.58 281.20,357.51 283.20,357.44 C285.20,357.37 287.20,357.30 289.20,357.23 C291.20,357.17 293.20,357.10 295.20,357.04 C297.20,356.97 299.20,356.91 301.20,356.85 C303.20,356.79 305.20,356.73 307.20,356.67 C309.20,356.61 311.20,356.56 313.20,356.50 C315.20,356.44 317.20,356.39 319.20,356.34 C321.20,356.29 323.20,356.24 325.20,356.19 C327.20,356.14 329.20,356.09 331.20,356.04 C333.20,355.99 335.20,355.95 337.20,355.90 C339.20,355.86 341.20,355.81 343.20,355.77 C345.20,355.73 347.20,355.68 349.20,355.64 C351.20,355.60 353.20,355.56 355.20,355.52 C357.20,355.49 359.20,355.45 361.20,355.41 C363.20,355.37 365.20,355.34 367.20,355.30 C369.20,355.27 371.20,355.23 373.20,355.20 C375.20,355.17 377.32,355.13 379.20,355.10 C381.08,355.07 383.62,355.04 384.50,355.02" fill="none" stroke="#0000d2" stroke-width="2.90" stroke-linejoin="round" stroke-linecap="round"/>
<path d="M78.60,272.50 C78.67,279.75 78.82,300.42 79.00,316.00 C79.18,331.58 79.40,356.00 79.70,366.00 C80.00,376.00 80.43,372.83 80.80,376.00 C81.17,379.17 81.57,382.17 81.90,385.00 C82.23,387.83 82.52,390.50 82.80,393.00 C83.08,395.50 83.30,398.00 83.60,400.00 C83.90,402.00 84.23,403.37 84.60,405.00 C84.97,406.63 85.43,408.63 85.80,409.80 C86.17,410.97 86.47,411.53 86.80,412.00 C87.13,412.47 87.38,412.87 87.80,412.60 C88.22,412.33 88.80,411.26 89.30,410.40 C89.80,409.53 90.30,408.34 90.80,407.39 C91.30,406.43 91.80,405.53 92.30,404.67 C92.80,403.81 93.30,403.00 93.80,402.22 C94.30,401.44 94.80,400.70 95.30,400.00 C95.80,399.29 96.30,398.62 96.80,397.98 C97.30,397.34 97.80,396.74 98.30,396.15 C98.80,395.57 99.30,395.02 99.80,394.49 C100.30,393.96 100.80,393.46 101.30,392.98 C101.80,392.49 102.30,392.03 102.80,391.59 C103.30,391.15 103.80,390.73 104.30,390.32 C104.80,389.92 105.30,389.53 105.80,389.16 C106.30,388.79 106.80,388.44 107.30,388.09 C107.80,387.75 108.30,387.43 108.80,387.11 C109.30,386.80 109.80,386.49 110.30,386.20 C110.80,385.91 111.30,385.63 111.80,385.36 C112.30,385.09 112.80,384.83 113.30,384.58 C113.80,384.33 114.30,384.08 114.80,383.85 C115.30,383.62 115.80,383.39 116.30,383.17 C116.80,382.95 116.55,383.01 117.80,382.53 C119.05,382.06 121.80,381.00 123.80,380.34 C125.80,379.68 127.80,379.10 129.80,378.56 C131.80,378.01 133.80,377.52 135.80,377.05 C137.80,376.58 139.80,376.15 141.80,375.74 C143.80,375.32 145.80,374.94 147.80,374.56 C149.80,374.18 151.80,373.83 153.80,373.48 C155.80,373.13 157.80,372.80 159.80,372.48 C161.80,372.16 163.80,371.84 165.80,371.54 C167.80,371.23 169.80,370.94 171.80,370.65 C173.80,370.36 175.80,370.08 177.80,369.81 C179.80,369.54 181.80,369.27 183.80,369.01 C185.80,368.75 187.80,368.49 189.80,368.24 C191.80,367.99 193.80,367.75 195.80,367.51 C197.80,367.28 199.80,367.04 201.80,366.82 C203.80,366.59 205.80,366.37 207.80,366.15 C209.80,365.93 211.80,365.72 213.80,365.51 C215.80,365.30 217.80,365.10 219.80,364.90 C221.80,364.70 223.80,364.51 225.80,364.31 C227.80,364.12 229.80,363.94 231.80,363.75 C233.80,363.57 235.80,363.39 237.80,363.22 C239.80,363.04 241.80,362.87 243.80,362.71 C245.80,362.54 247.80,362.37 249.80,362.21 C251.80,362.05 253.80,361.90 255.80,361.74 C257.80,361.59 259.80,361.44 261.80,361.29 C263.80,361.15 265.80,361.00 267.80,360.86 C269.80,360.72 271.80,360.58 273.80,360.45 C275.80,360.31 277.80,360.18 279.80,360.05 C281.80,359.92 283.80,359.80 285.80,359.67 C287.80,359.55 289.80,359.43 291.80,359.31 C293.80,359.19 295.80,359.08 297.80,358.97 C299.80,358.85 301.80,358.74 303.80,358.63 C305.80,358.52 307.80,358.42 309.80,358.32 C311.80,358.21 313.80,358.11 315.80,358.01 C317.80,357.91 319.80,357.81 321.80,357.72 C323.80,357.62 325.80,357.53 327.80,357.44 C329.80,357.35 331.80,357.26 333.80,357.17 C335.80,357.08 337.80,357.00 339.80,356.92 C341.80,356.83 343.80,356.75 345.80,356.67 C347.80,356.59 349.80,356.51 351.80,356.44 C353.80,356.36 355.80,356.28 357.80,356.21 C359.80,356.14 361.80,356.07 363.80,356.00 C365.80,355.93 367.80,355.86 369.80,355.79 C371.80,355.72 373.80,355.66 375.80,355.59 C377.80,355.53 380.35,355.45 381.80,355.40 C383.25,355.36 384.05,355.34 384.50,355.32" fill="none" stroke="#14e614" stroke-width="2.90" stroke-linejoin="round" stroke-linecap="round"/>
<line x1="85.40" y1="355.20" x2="386.50" y2="355.20" stroke="#6e6e6e" stroke-width="1.90" stroke-dasharray="4.2 3.33"/>
<line x1="206.40" y1="125.80" x2="249.70" y2="125.80" stroke="#000" stroke-width="2.70" />
<line x1="206.40" y1="148.60" x2="249.70" y2="148.60" stroke="#e00000" stroke-width="2.70" />
<line x1="206.40" y1="172.10" x2="249.70" y2="172.10" stroke="#0000d2" stroke-width="2.70" />
<line x1="206.40" y1="195.30" x2="249.70" y2="195.30" stroke="#14e614" stroke-width="2.70" />
<line x1="200.40" y1="391.90" x2="243.30" y2="391.90" stroke="#000" stroke-width="2.70" />
<line x1="200.40" y1="414.80" x2="243.30" y2="414.80" stroke="#e00000" stroke-width="2.70" />
<line x1="200.40" y1="438.10" x2="243.30" y2="438.10" stroke="#0000d2" stroke-width="2.70" />
<line x1="200.40" y1="461.50" x2="243.30" y2="461.50" stroke="#14e614" stroke-width="2.70" />
<line x1="500.10" y1="49.60" x2="500.10" y2="314.70" stroke="#111" stroke-width="2.20" />
<line x1="493.30" y1="256.10" x2="500.10" y2="256.10" stroke="#111" stroke-width="2.20" />
<line x1="493.30" y1="197.50" x2="500.10" y2="197.50" stroke="#111" stroke-width="2.20" />
<line x1="493.30" y1="138.90" x2="500.10" y2="138.90" stroke="#111" stroke-width="2.20" />
<line x1="493.30" y1="80.30" x2="500.10" y2="80.30" stroke="#111" stroke-width="2.20" />
<text x="490.900" y="321.600" font-size="19.200" text-anchor="end" font-weight="bold" fill="#111">0</text>
<text x="490.900" y="263.000" font-size="19.200" text-anchor="end" font-weight="bold" fill="#111">2</text>
<text x="490.900" y="204.400" font-size="19.200" text-anchor="end" font-weight="bold" fill="#111">4</text>
<text x="490.900" y="145.800" font-size="19.200" text-anchor="end" font-weight="bold" fill="#111">6</text>
<text x="490.900" y="87.200" font-size="19.200" text-anchor="end" font-weight="bold" fill="#111">8</text>
<line x1="521.00" y1="152.96" x2="521.00" y2="98.47" stroke="#111" stroke-width="2.60" />
<line x1="512.70" y1="98.47" x2="529.30" y2="98.47" stroke="#111" stroke-width="2.80" />
<rect x="507.25" y="152.96" width="27.50" height="161.74" fill="#acaeb0" stroke="#111" stroke-width="3"/>
<line x1="521.00" y1="314.70" x2="521.00" y2="321.70" stroke="#111" stroke-width="2.40" />
<line x1="563.90" y1="165.86" x2="563.90" y2="145.64" stroke="#111" stroke-width="2.60" />
<line x1="555.60" y1="145.64" x2="572.20" y2="145.64" stroke="#111" stroke-width="2.80" />
<rect x="550.15" y="165.86" width="27.50" height="148.84" fill="#acaeb0" stroke="#111" stroke-width="3"/>
<line x1="563.90" y1="314.70" x2="563.90" y2="321.70" stroke="#111" stroke-width="2.40" />
<line x1="606.80" y1="259.91" x2="606.80" y2="254.63" stroke="#111" stroke-width="2.60" />
<line x1="598.50" y1="254.63" x2="615.10" y2="254.63" stroke="#111" stroke-width="2.80" />
<rect x="593.05" y="259.91" width="27.50" height="54.79" fill="#acaeb0" stroke="#111" stroke-width="3"/>
<line x1="606.80" y1="314.70" x2="606.80" y2="321.70" stroke="#111" stroke-width="2.40" />
<line x1="649.80" y1="232.66" x2="649.80" y2="210.39" stroke="#111" stroke-width="2.60" />
<line x1="641.50" y1="210.39" x2="658.10" y2="210.39" stroke="#111" stroke-width="2.80" />
<rect x="636.05" y="232.66" width="27.50" height="82.04" fill="#acaeb0" stroke="#111" stroke-width="3"/>
<line x1="649.80" y1="314.70" x2="649.80" y2="321.70" stroke="#111" stroke-width="2.40" />
<line x1="493.30" y1="314.70" x2="672.50" y2="314.70" stroke="#111" stroke-width="2.60" />
<path d="M521.6,88.6 V81.6 H569.6 V88.6" fill="none" stroke="#111" stroke-width="2.4"/>
<path d="M545.3,59.8 V52.6 H626.8 V83.7 M601.6,83.7 H652.2" fill="none" stroke="#111" stroke-width="2.4"/>
<path d="M601.2,202 V194.6 H650.2 V202" fill="none" stroke="#111" stroke-width="2.4"/>
<path d="M576.00,38.70 L576.00,47.90 M571.90,41.21 L580.10,45.39 M571.90,45.39 L580.10,41.21 " stroke="#111" stroke-width="1.90" stroke-linecap="round" fill="none"/>
<path d="M588.10,38.70 L588.10,47.90 M584.00,41.21 L592.20,45.39 M584.00,45.39 L592.20,41.21 " stroke="#111" stroke-width="1.90" stroke-linecap="round" fill="none"/>
<path d="M600.20,38.70 L600.20,47.90 M596.10,41.21 L604.30,45.39 M596.10,45.39 L604.30,41.21 " stroke="#111" stroke-width="1.90" stroke-linecap="round" fill="none"/>
<path d="M625.10,178.50 L625.10,187.70 M621.00,181.01 L629.20,185.19 M621.00,185.19 L629.20,181.01 " stroke="#111" stroke-width="1.90" stroke-linecap="round" fill="none"/>
<text x="1.400" y="37.800" font-size="49.200" text-anchor="start" font-weight="bold" fill="#111" textLength="34.887" lengthAdjust="spacingAndGlyphs">A</text>
<text x="3.450" y="286.450" font-size="48.500" text-anchor="start" font-weight="bold" fill="#111" stroke="#111" stroke-width="0.50" stroke-linejoin="round" textLength="28.432" lengthAdjust="spacingAndGlyphs">B</text>
<text x="403.800" y="44.100" font-size="49.000" text-anchor="start" font-weight="bold" fill="#111" stroke="#111" stroke-width="1.00" stroke-linejoin="round" textLength="27.014" lengthAdjust="spacingAndGlyphs">C</text>
<text x="37.950" y="188.000" font-size="25.000" text-anchor="start" font-weight="bold" fill="#111" textLength="118.198" lengthAdjust="spacingAndGlyphs" transform="rotate(-90.00 37.950 188.000)">Force (nN)</text>
<text x="39.950" y="449.400" font-size="25.000" text-anchor="start" font-weight="bold" fill="#111" textLength="117.603" lengthAdjust="spacingAndGlyphs" transform="rotate(-90.00 39.950 449.400)">Force (nN)</text>
<text x="150.800" y="270.550" font-size="24.000" text-anchor="start" font-weight="bold" fill="#111" textLength="160.010" lengthAdjust="spacingAndGlyphs">Distance (&#181;m)</text>
<text x="152.100" y="531.450" font-size="24.000" text-anchor="start" font-weight="bold" fill="#111" textLength="159.806" lengthAdjust="spacingAndGlyphs">Distance (&#181;m)</text>
<text x="464.700" y="304.050" font-size="23.500" text-anchor="start" font-weight="bold" fill="#111" textLength="252.398" lengthAdjust="spacingAndGlyphs" transform="rotate(-90.00 464.700 304.050)">Tethers per retraction</text>
<text x="530.700" y="77.500" font-size="22.300" text-anchor="start" font-weight="bold" fill="#111" stroke="#111" stroke-width="0.45" stroke-linejoin="round" textLength="36.639" lengthAdjust="spacingAndGlyphs">n.s.</text>
<text x="525.800" y="340.300" font-size="20.300" text-anchor="end" font-weight="bold" fill="#111" textLength="30.242" lengthAdjust="spacingAndGlyphs" transform="rotate(-45.00 525.800 340.300)">WT</text>
<text x="568.450" y="339.500" font-size="20.300" text-anchor="end" font-weight="bold" fill="#111" textLength="48.784" lengthAdjust="spacingAndGlyphs" transform="rotate(-45.00 568.450 339.500)">N80A</text>
<text x="611.350" y="340.700" font-size="20.300" text-anchor="end" font-weight="bold" fill="#111" textLength="48.952" lengthAdjust="spacingAndGlyphs" transform="rotate(-45.00 611.350 340.700)"><tspan font-weight="normal">&#916;</tspan>CRD</text>
<text x="654.550" y="341.050" font-size="20.300" text-anchor="end" font-weight="bold" fill="#111" textLength="46.736" lengthAdjust="spacingAndGlyphs" transform="rotate(-45.00 654.550 341.050)"><tspan font-weight="normal">&#916;</tspan>Rep</text>
<text x="252.200" y="131.600" font-size="15.100" text-anchor="start" font-weight="bold" fill="#111" stroke="#111" stroke-width="0.30" stroke-linejoin="round" textLength="124.406" lengthAdjust="spacingAndGlyphs">CHO-DC-SIGN-WT</text>
<text x="246.250" y="397.500" font-size="15.100" text-anchor="start" font-weight="bold" fill="#111" stroke="#111" stroke-width="0.30" stroke-linejoin="round" textLength="122.803" lengthAdjust="spacingAndGlyphs">CHO-DC-SIGN-WT</text>
<text x="252.200" y="154.600" font-size="15.100" text-anchor="start" font-weight="bold" fill="#111" stroke="#111" stroke-width="0.30" stroke-linejoin="round" textLength="139.406" lengthAdjust="spacingAndGlyphs">CHO-DC-SIGN-N80A</text>
<text x="246.750" y="420.500" font-size="15.100" text-anchor="start" font-weight="bold" fill="#111" stroke="#111" stroke-width="0.30" stroke-linejoin="round" textLength="138.808" lengthAdjust="spacingAndGlyphs">CHO-DC-SIGN-N80A</text>
<text x="252.500" y="177.800" font-size="15.100" text-anchor="start" font-weight="bold" fill="#111" stroke="#111" stroke-width="0.30" stroke-linejoin="round" textLength="140.212" lengthAdjust="spacingAndGlyphs">CHO-DC-SIGN-<tspan font-weight="normal">&#916;</tspan>CRD</text>
<text x="246.500" y="443.700" font-size="15.100" text-anchor="start" font-weight="bold" fill="#111" stroke="#111" stroke-width="0.30" stroke-linejoin="round" textLength="138.802" lengthAdjust="spacingAndGlyphs">CHO-DC-SIGN-<tspan font-weight="normal">&#916;</tspan>CRD</text>
<text x="252.400" y="200.900" font-size="15.100" text-anchor="start" font-weight="bold" fill="#111" stroke="#111" stroke-width="0.30" stroke-linejoin="round" textLength="138.607" lengthAdjust="spacingAndGlyphs">CHO-DC-SIGN-<tspan font-weight="normal">&#916;</tspan>Rep</text>
<text x="246.400" y="466.800" font-size="15.100" text-anchor="start" font-weight="bold" fill="#111" stroke="#111" stroke-width="0.30" stroke-linejoin="round" textLength="137.203" lengthAdjust="spacingAndGlyphs">CHO-DC-SIGN-<tspan font-weight="normal">&#916;</tspan>Rep</text>
</svg>
</body></html>
